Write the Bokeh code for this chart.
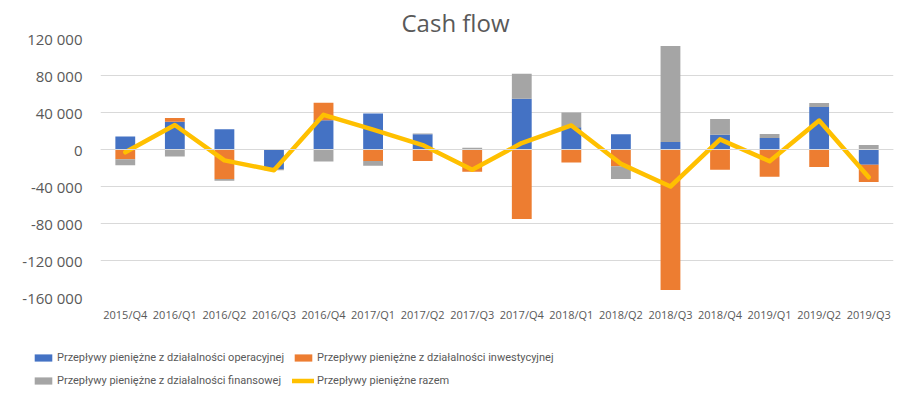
from bokeh.plotting import figure
from bokeh.layouts import column
from bokeh.models import (ColumnDataSource, FactorRange, Range1d, FixedTicker,
                          Legend, LegendItem, Span)
from bokeh.embed import file_html
from bokeh.resources import INLINE

quarters = ["2015/Q4", "2016/Q1", "2016/Q2", "2016/Q3", "2016/Q4",
            "2017/Q1", "2017/Q2", "2017/Q3", "2017/Q4",
            "2018/Q1", "2018/Q2", "2018/Q3", "2018/Q4",
            "2019/Q1", "2019/Q2", "2019/Q3"]
operating = [14000, 30000, 22000, -21000, 31500, 39000, 16500, 0,
             55000, 24000, 16500, 8000, 16000, 12500, 46000, -16500]
investing = [-10500, 4000, -32000, 0, 19000, -12500, -12500, -24000,
             -75000, -14000, -18000, -152000, -22000, -29500, -19000, -18500]
financing = [-6500, -7500, -1800, -1500, -13000, -5000, 800, 2000,
             27000, 16000, -14000, 104000, 17000, 4300, 4300, 5000]
y_ticks = [-160000, -120000, -80000, -40000, 0, 40000, 80000, 120000]
y_labels = ["-160 000", "-120 000", "-80 000", "-40 000", "0",
            "40 000", "80 000", "120 000"]
series_names = ["Przepływy pieniężne z działalności operacyjnej",
                "Przepływy pieniężne z działalności inwestycyjnej",
                "Przepływy pieniężne z działalności finansowej",
                "Przepływy pieniężne razem"]
colors = ["#4472C4", "#ED7D31", "#A5A5A5", "#FFC000"]

total = [o + i + f for o, i, f in zip(operating, investing, financing)]

# Excel-style stacking: positives stack up from zero, negatives stack down
n = len(quarters)
pos = [0] * n
neg = [0] * n
stacks = []
for s in (operating, investing, financing):
    b, t = [], []
    for k, v in enumerate(s):
        if v >= 0:
            b.append(pos[k]); pos[k] += v; t.append(pos[k])
        else:
            b.append(neg[k]); neg[k] += v; t.append(neg[k])
    stacks.append((b, t))

FONT = "Open Sans"
GREY = "#595959"

p = figure(width=916, height=325, x_range=FactorRange(*quarters),
           y_range=Range1d(-160000, 120000), output_backend="svg",
           toolbar_location=None, min_border_left=100, min_border_right=23,
           min_border_top=38, min_border_bottom=28)
p.outline_line_color = None
p.background_fill_color = "white"
p.border_fill_color = "white"

p.title.text = "Cash flow"
p.title.align = "left"
p.title.offset = 301
p.title.text_font = FONT
p.title.text_font_size = "24px"
p.title.text_font_style = "normal"
p.title.text_color = GREY
p.title.standoff = 0

for (b, t), c in zip(stacks, colors[:3]):
    src = ColumnDataSource(dict(x=quarters, bottom=b, top=t))
    p.vbar(x="x", bottom="bottom", top="top", width=0.4, source=src,
           fill_color=c, line_color=None)

p.add_layout(Span(location=0, dimension="width", line_color="#D9D9D9",
                  line_width=1))

lsrc = ColumnDataSource(dict(x=quarters, y=total))
p.line(x="x", y="y", source=lsrc, line_color=colors[3], line_width=4.5,
       line_join="round", line_cap="round")

p.yaxis.ticker = FixedTicker(ticks=y_ticks)
p.ygrid.ticker = FixedTicker(ticks=y_ticks)
p.yaxis.major_label_overrides = {t: l for t, l in zip(y_ticks, y_labels)}
p.yaxis.axis_line_color = None
p.yaxis.major_tick_line_color = None
p.yaxis.minor_tick_line_color = None
p.yaxis.major_tick_out = 0
p.yaxis.minor_tick_out = 0
p.yaxis.major_label_standoff = 18
p.yaxis.major_label_text_font = FONT
p.yaxis.major_label_text_font_size = "15px"
p.yaxis.major_label_text_color = GREY

p.xaxis.axis_line_color = None
p.xaxis.major_tick_line_color = None
p.xaxis.major_tick_out = 0
p.xaxis.major_label_standoff = 9
p.xaxis.major_label_text_font = FONT
p.xaxis.major_label_text_font_size = "11px"
p.xaxis.major_label_text_color = GREY

p.xgrid.visible = False
p.ygrid.grid_line_color = "#D9D9D9"
p.ygrid.grid_line_width = 1

# ---- legend strip: a second figure whose only content is the legend ----
q = figure(width=916, height=68, x_range=Range1d(0, 1), y_range=Range1d(0, 1),
           output_backend="svg", toolbar_location=None,
           x_axis_location=None, y_axis_location=None,
           min_border_left=0, min_border_right=0, min_border_top=0,
           min_border_bottom=0)
q.grid.visible = False
q.outline_line_color = None
q.border_fill_color = "white"
q.background_fill_color = "white"

# do not align the legend strip's frame with the chart's frame
unaligned = "frame_align" in q.properties()
if unaligned:
    q.frame_align = False
    p.frame_align = False
legend_x = 32 if unaligned else 0

# key renderers (their single sample lies outside the visible range)
keys = []
for c in colors[:3]:
    keys.append(q.vbar(x=[5], top=[6], bottom=[5], width=0.5,
                       fill_color=c, line_color=None))
keys.append(q.line(x=[5, 6], y=[5, 5], line_color=colors[3], line_width=4.5,
                   line_cap="round"))

order = [0, 2, 1, 3]
legend = Legend(items=[LegendItem(label=series_names[i], renderers=[keys[i]])
                       for i in order],
                location=(legend_x, 5), orientation="vertical", ncols=2,
                glyph_width=22, glyph_height=9, label_standoff=3,
                label_width=225, label_height=15, spacing=8, padding=0,
                margin=0, border_line_color=None, background_fill_alpha=0,
                label_text_font="Roboto", label_text_font_size="11px",
                label_text_color=GREY)
q.add_layout(legend)

layout = column(p, q, spacing=0)
open("out.html", "w").write(file_html(layout, INLINE))
